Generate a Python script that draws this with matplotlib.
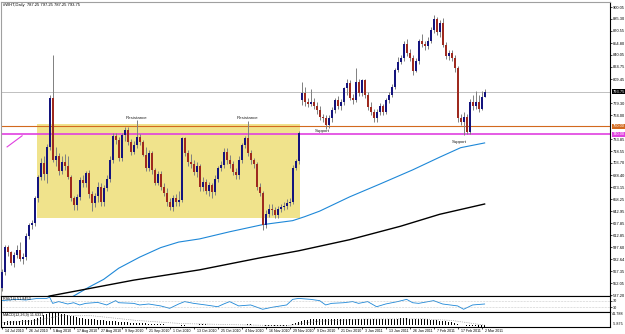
import numpy as np
import matplotlib.pyplot as plt
from matplotlib.patches import Rectangle

plt.rcParams['font.family'] = ['Liberation Sans', 'DejaVu Sans']

# daily bars, oldest first
opens = [546, 566, 598, 591, 578, 588, 594, 583, 585, 612,
         625, 628, 660, 686, 704, 690, 724, 786, 708, 713,
         693, 705, 700, 686, 660, 651, 661, 682, 678, 691,
         664, 653, 662, 673, 654, 672, 684, 707, 738, 733,
         710, 739, 745, 730, 718, 726, 736, 730, 714, 698,
         716, 695, 679, 690, 674, 666, 655, 648, 660, 654,
         657, 735, 716, 705, 702, 692, 700, 673, 680, 668,
         676, 667, 684, 697, 701, 718, 707, 702, 692, 688,
         708, 726, 735, 716, 707, 702, 674, 666, 625, 640,
         646, 644, 638, 646, 648, 650, 653, 655, 698, 706,
         783, 792, 781, 778, 781, 776, 771, 762, 760, 752,
         760, 770, 783, 776, 781, 798, 804, 786, 783, 806,
         792, 808, 790, 774, 768, 760, 768, 775, 768, 783,
         790, 800, 821, 831, 836, 854, 843, 836, 820, 832,
         858, 854, 851, 858, 872, 885, 869, 880, 853, 839,
         842, 836, 823, 760, 756, 762, 743, 781, 775, 780,
         772, 787.25]
highs = [570, 600, 600, 593, 591, 600, 604, 590, 615, 628,
         632, 662, 688, 710, 712, 728, 789, 840, 724, 716,
         712, 715, 712, 688, 662, 665, 686, 688, 694, 695,
         668, 666, 680, 678, 676, 688, 712, 741, 742, 737,
         742, 749, 749, 734, 732, 758, 740, 733, 724, 720,
         719, 698, 694, 693, 678, 672, 660, 663, 665, 668,
         737, 737, 720, 715, 708, 705, 703, 686, 684, 680,
         678, 688, 700, 706, 722, 722, 714, 706, 698, 712,
         729, 738, 757, 720, 710, 705, 678, 668, 644, 652,
         652, 648, 650, 652, 654, 658, 660, 701, 709, 744,
         806, 800, 786, 797, 786, 780, 775, 766, 764, 764,
         774, 786, 788, 784, 800, 810, 808, 791, 823, 810,
         810, 810, 793, 780, 772, 772, 779, 778, 786, 793,
         803, 824, 837, 840, 858, 860, 848, 840, 836, 860,
         866, 858, 862, 875, 890, 888, 884, 886, 856, 846,
         846, 840, 826, 766, 768, 766, 784, 790, 795, 790,
         795, 797.25]
lows = [542, 563, 586, 575, 572, 584, 580, 576, 582, 608,
        620, 624, 655, 682, 682, 678, 720, 705, 700, 688,
        690, 695, 683, 656, 645, 644, 657, 674, 674, 660,
        643, 648, 655, 650, 650, 668, 680, 704, 728, 706,
        706, 732, 727, 714, 715, 722, 726, 712, 694, 693,
        690, 676, 676, 670, 662, 650, 645, 643, 650, 650,
        654, 712, 700, 698, 688, 686, 668, 668, 664, 662,
        660, 663, 680, 694, 698, 703, 697, 688, 683, 684,
        704, 722, 712, 703, 698, 670, 662, 619, 622, 636,
        638, 634, 634, 642, 644, 646, 650, 652, 695, 703,
        777, 776, 774, 775, 772, 766, 758, 755, 747, 748,
        756, 767, 772, 770, 777, 790, 783, 778, 780, 788,
        788, 786, 770, 764, 756, 756, 764, 764, 765, 779,
        787, 797, 818, 828, 832, 838, 832, 815, 818, 828,
        850, 846, 848, 855, 868, 865, 862, 850, 835, 834,
        832, 818, 756, 752, 739, 740, 740, 770, 772, 768,
        770, 787.25]
closes = [566, 598, 591, 578, 588, 594, 583, 585, 612, 625,
          628, 660, 686, 704, 690, 724, 786, 708, 713, 693,
          705, 700, 686, 660, 651, 661, 682, 678, 691, 664,
          653, 662, 673, 654, 672, 684, 707, 738, 733, 710,
          739, 745, 730, 718, 726, 736, 730, 714, 698, 716,
          695, 679, 690, 674, 666, 655, 648, 660, 654, 657,
          735, 716, 705, 702, 692, 700, 673, 680, 668, 676,
          667, 684, 697, 701, 718, 707, 702, 692, 688, 708,
          726, 735, 716, 707, 702, 674, 666, 625, 640, 646,
          644, 638, 646, 648, 650, 653, 655, 698, 706, 741,
          792, 781, 778, 781, 776, 771, 762, 760, 752, 760,
          770, 783, 776, 781, 798, 804, 786, 783, 806, 792,
          808, 790, 774, 768, 760, 768, 775, 768, 783, 790,
          800, 821, 831, 836, 854, 843, 836, 820, 832, 858,
          854, 851, 858, 872, 885, 869, 880, 853, 839, 842,
          836, 823, 760, 756, 762, 743, 781, 775, 780, 772,
          787.25, 793.75]

# moving averages (bar index, value)
ma_fast_idx = [22, 24, 29, 34, 39, 46, 53, 59, 66, 76, 87, 97, 101, 106, 116, 126, 137, 146, 153, 161]
ma_fast_val = [532, 536, 547, 557, 571, 585, 597, 604, 608, 617, 626, 631, 636, 643, 661, 677, 695, 711, 723, 729]
ma_slow_idx = [12, 16, 44, 66, 86, 99, 116, 133, 146, 161]
ma_slow_val = [531, 536, 556, 569, 584, 593, 607, 624, 639, 652]

# RSI(14) samples
rsi_idx = [0, 5, 8, 12, 15, 16, 17, 19, 22, 24, 26, 28, 32, 35, 38, 39, 44, 46, 49, 53,
           56, 59, 61, 64, 68, 72, 74, 76, 79, 83, 87, 90, 95, 97, 99, 103, 106, 108, 110,
           114, 117, 119, 122, 125, 128, 132, 135, 137, 139, 144, 147, 152, 154, 157, 161]
rsi_val = [71, 79, 75, 85, 85, 92, 54, 65, 50, 58, 44, 54, 60, 44, 71, 58, 54, 44, 50, 38,
           23, 50, 65, 54, 44, 33, 50, 65, 38, 44, 17, 29, 44, 79, 85, 79, 71, 44, 54,
           58, 65, 54, 65, 33, 50, 65, 79, 58, 54, 71, 50, 38, 17, 44, 50]

# MACD main (histogram), one per bar
macd = [10, 11, 12, 12, 13, 14, 14, 15, 15, 16, 17,
        19, 23, 27, 31, 35, 38, 41,
        40, 38, 36, 34, 32, 30, 28, 26, 24, 22,
        21, 20, 19, 18, 17, 16, 15, 14, 13, 12, 12, 11, 10, 10, 9, 8, 8,
        7, 7, 6, 6, 5, 5, 4, 4, 3, 3, 2,
        1, 0, -1, -1, -2, -2, -1, 0, 1, 2, 3, 3, 3, 2, 2, 1, 1, 0, 0, -1,
        -1, 0, 0, 1, 2, 2, 3, 3, 2, 1, 0, -1, -2, -3, -3, -4, -4, -4,
        -3, -2, 0, 3, 7, 10, 13, 15, 17,
        18, 19, 19, 20, 20, 20, 19, 19, 18, 18, 19, 19, 20, 20, 21, 21, 21, 20, 20, 19,
        19, 18, 18, 18, 19, 19, 20, 20, 21, 21, 22, 22, 22, 21, 21, 20, 20, 19, 19, 18,
        17, 16, 15, 14, 13, 12, 11, 10,
        8, 5, 2, 0, -2, -3, -4, -4, -5, -5, -5]
signal_idx = [0, 10, 20, 30, 45, 60, 80, 95, 105, 120, 140, 150, 161]
signal_val = [8, 13, 30, 30, 15, 5, 1, -2, 12, 19, 20, 15, 0]

# chart objects
box = (11.8, 99.6, 634.5, 753)
orange_level = 750.00
magenta_level = 740.00
trend_idx = [1.8, 6.8]
trend_val = [724, 738]
resistance_idx = [45, 82]
support_idx = [107, 152.5]
support_val = [743.5, 730]

price_ticks = [900.05, 885.30, 870.55, 854.80, 840.05, 824.75, 809.45, 779.30, 764.00,
               733.85, 718.55, 703.70, 688.40, 673.15, 658.25, 642.95, 627.85, 612.85,
               597.60, 582.64, 567.35, 552.05, 537.20]
date_idx = list(range(0, 161, 8))
date_labels = ['14 Jul 2010', '26 Jul 2010', '5 Aug 2010', '17 Aug 2010', '27 Aug 2010',
               '9 Sep 2010', '21 Sep 2010', '1 Oct 2010', '13 Oct 2010', '25 Oct 2010',
               '4 Nov 2010', '16 Nov 2010', '29 Nov 2010', '9 Dec 2010', '21 Dec 2010',
               '3 Jan 2011', '13 Jan 2011', '26 Jan 2011', '7 Feb 2011', '17 Feb 2011',
               '2 Mar 2011']

W, H = 625, 334
fig = plt.figure(figsize=(W / 100, H / 100), dpi=100)


def px_axes(x0, x1, y0, y1):
    return fig.add_axes([x0 / W, 1 - y1 / H, (x1 - x0) / W, (y1 - y0) / H])


ax = px_axes(1, 610, 2, 296)
ax_rsi = px_axes(1, 610, 296, 312)
ax_macd = px_axes(1, 610, 312, 327)

xlim = (-0.23, 202.8)
FS = 2.9

o = np.array(opens)
h = np.array(highs)
l = np.array(lows)
c = np.array(closes)
x = np.arange(len(c))
up = c >= o

# main chart
ax.add_patch(Rectangle((box[0], box[2]), box[1] - box[0], box[3] - box[2],
                       facecolor='#F0E38C', edgecolor='none', zorder=0))
ax.axhline(closes[-1], color='#C0C0C0', lw=0.7, zorder=1)
ax.axhline(orange_level, color='#D2691E', lw=0.8, zorder=1)
ax.axhline(magenta_level, color='#E040E0', lw=1.2, zorder=1)
ax.plot(trend_idx, trend_val, color='#E040E0', lw=0.8, zorder=1)
ax.plot(ma_fast_idx, ma_fast_val, color='#1E88D8', lw=0.8, zorder=2)
ax.plot(ma_slow_idx, ma_slow_val, color='black', lw=1.0, zorder=2)

ax.vlines(x, l, h, color='#808080', lw=0.7, zorder=3)
body_lo = np.minimum(o, c)
body_h = np.maximum(np.abs(c - o), 0.8)
ax.bar(x, body_h, bottom=body_lo, width=0.66,
       color=np.where(up, '#14147E', '#9E2A1F'), lw=0, zorder=4)

for i in resistance_idx:
    ax.text(i, 761, 'Resistance', fontsize=3.2, ha='center', va='center', color='#202020', zorder=5)
for i, v in zip(support_idx, support_val):
    ax.text(i, v, 'Support', fontsize=3.2, ha='center', va='center', color='#202020', zorder=5)

ax.text(0.004, 0.995, '#WHT,Daily  787.25 797.25 787.25 793.75', transform=ax.transAxes,
        fontsize=3.0, va='top', ha='left')

ax.set_xlim(*xlim)
ax.set_ylim(536.0, 906.7)
ax.yaxis.tick_right()
ax.set_yticks(price_ticks)
ax.set_yticklabels(['%.2f' % v for v in price_ticks])
ax.tick_params(axis='y', labelsize=FS, length=1.5, width=0.5, pad=0.8)
ax.set_xticks([])

for v, fc in [(closes[-1], 'black'), (orange_level, '#D2691E'), (magenta_level, '#E040E0')]:
    ax.text(1.004, v, '%.2f' % v, transform=ax.get_yaxis_transform(), fontsize=FS,
            color='white', va='center', ha='left',
            bbox=dict(boxstyle='square,pad=0.12', fc=fc, ec='none'))

for s in ['top', 'left']:
    ax.spines[s].set_color('#A0A0A0')
    ax.spines[s].set_linewidth(0.8)
for s in ['right', 'bottom']:
    ax.spines[s].set_linewidth(0.8)

# RSI panel
ax_rsi.plot(rsi_idx, rsi_val, color='#1E88D8', lw=0.6)
ax_rsi.axhline(70, color='#A0A0A0', lw=0.4, ls=':')
ax_rsi.axhline(30, color='#A0A0A0', lw=0.4, ls=':')
ax_rsi.set_xlim(*xlim)
ax_rsi.set_ylim(0, 100)
ax_rsi.yaxis.tick_right()
ax_rsi.set_yticks([70, 30])
ax_rsi.set_yticklabels(['70', '30'])
ax_rsi.tick_params(axis='y', labelsize=2.7, length=1.5, width=0.5, pad=0.8)
ax_rsi.set_xticks([])
ax_rsi.text(0.004, 0.93, 'RSI(14) 51.8453', transform=ax_rsi.transAxes, fontsize=2.7,
            va='top', ha='left')
for s in ax_rsi.spines.values():
    s.set_linewidth(0.8)

# MACD panel
ax_macd.bar(x, macd, width=0.45, color='black', lw=0)
ax_macd.plot(signal_idx, signal_val, color='#808080', lw=0.5, ls=':')
ax_macd.set_xlim(*xlim)
ax_macd.set_ylim(-5.9, 41.8)
ax_macd.set_yticks([])
ax_macd.text(1.004, 0.87, '41.788', transform=ax_macd.transAxes, fontsize=2.7, va='center')
ax_macd.text(1.004, 0.2, '-5.875', transform=ax_macd.transAxes, fontsize=2.7, va='center')
ax_macd.text(0.004, 0.93, 'MACD(12,26,9) 11.6331', transform=ax_macd.transAxes, fontsize=2.7,
             va='top', ha='left')
ax_macd.set_xticks(date_idx)
ax_macd.set_xticklabels([])
ax_macd.tick_params(axis='x', length=1.5, width=0.5)
for i, lab in zip(date_idx, date_labels):
    ax_macd.text(i + 1.2, -0.12, lab, transform=ax_macd.get_xaxis_transform(),
                 fontsize=2.6, ha='left', va='top')
for s in ax_macd.spines.values():
    s.set_linewidth(0.8)

fig.savefig('out.png', dpi=100)
